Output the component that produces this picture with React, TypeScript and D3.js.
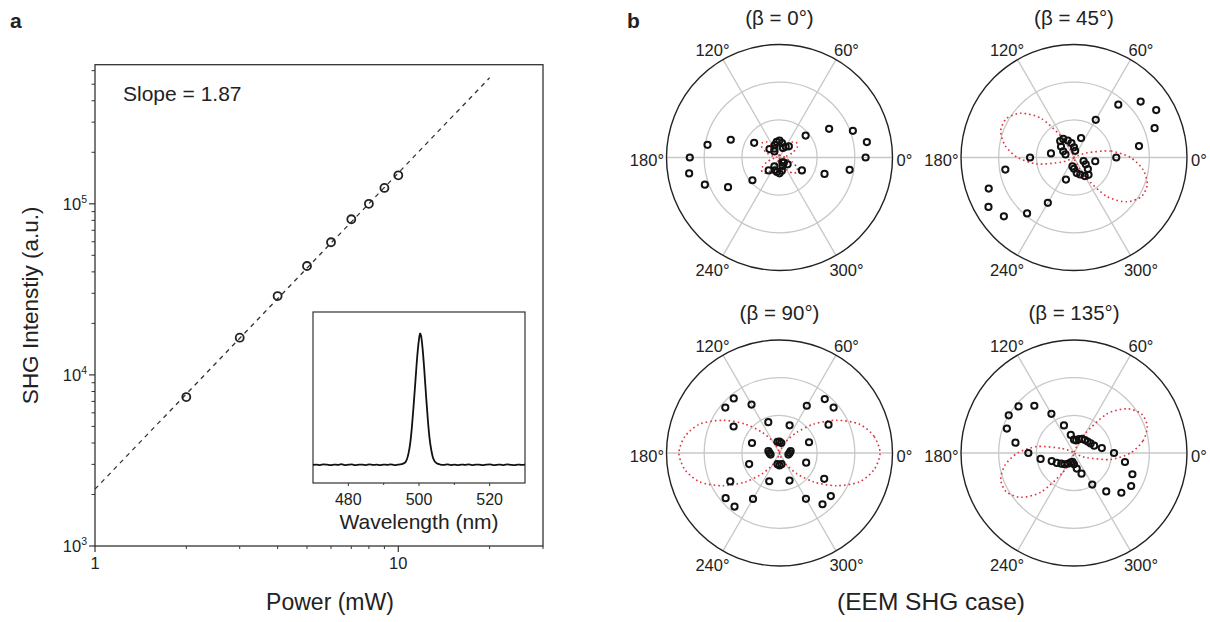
import React from "react";
import * as d3 from "d3";

// ---------- Panel a data ----------
const powerMW = [2, 3, 4, 5, 6, 7, 8, 9, 10];
const shgIntensity = [7420, 16500, 28900, 43300, 59600, 81200, 100000, 123800, 146700];
const fitPower = [1, 20];
const fitIntensity = [2150, 545000];
const slopeText = "Slope = 1.87";

const xMajorTicks = [1, 10];
const xMinorTicks = [2, 3, 4, 5, 6, 7, 8, 9, 20, 30];
const yMajorTicks = [1e3, 1e4, 1e5];
const yMajorExp = ["3", "4", "5"];
const yMinorTicks = [2e3, 3e3, 4e3, 5e3, 6e3, 7e3, 8e3, 9e3, 2e4, 3e4, 4e4, 5e4, 6e4, 7e4, 8e4, 9e4, 2e5, 3e5, 4e5, 5e5, 6e5];

// inset spectrum
const wavelength = [470, 471, 472, 473, 474, 475, 476, 477, 478, 479, 480, 481, 482, 483, 484, 485, 486, 487, 488, 489, 490, 491, 492, 493, 494, 495, 496, 497, 497.5, 498, 498.5, 499, 499.5, 500, 500.3, 500.6, 501, 501.5, 502, 502.5, 503, 503.5, 504, 505, 506, 507, 508, 509, 510, 511, 512, 513, 514, 515, 516, 517, 518, 519, 520, 521, 522, 523, 524, 525, 526, 527, 528, 529, 530];
const spectrum = [0.106, 0.108, 0.105, 0.109, 0.107, 0.104, 0.108, 0.106, 0.110, 0.105, 0.107, 0.109, 0.104, 0.107, 0.108, 0.105, 0.109, 0.106, 0.107, 0.104, 0.108, 0.106, 0.109, 0.105, 0.107, 0.110, 0.118, 0.17, 0.23, 0.33, 0.46, 0.6, 0.74, 0.84, 0.875, 0.86, 0.79, 0.66, 0.51, 0.37, 0.26, 0.19, 0.145, 0.115, 0.108, 0.106, 0.109, 0.105, 0.107, 0.104, 0.108, 0.106, 0.109, 0.105, 0.107, 0.108, 0.104, 0.107, 0.109, 0.105, 0.106, 0.108, 0.105, 0.109, 0.106, 0.104, 0.108, 0.106, 0.107];
const insetMajorTicks = [480, 500, 520];
const insetMinorTicks = [490, 510];

// ---------- Panel b data ----------
const polarAngles = [0, 10, 20, 30, 40, 50, 60, 70, 80, 90, 100, 110, 120, 130, 140, 150, 160, 170, 180, 190, 200, 210, 220, 230, 240, 250, 260, 270, 280, 290, 300, 310, 320, 330, 340, 350];
const betaTitles = ["(\u03b2 = 0\u00b0)", "(\u03b2 = 45\u00b0)", "(\u03b2 = 90\u00b0)", "(\u03b2 = 135\u00b0)"];

const meas0 = [0.762, 0.785, 0.691, 0.507, 0.302, 0.129, 0.11, 0.09, 0.13, 0.15, 0.14, 0.12, 0.09, 0.07, 0.116, 0.259, 0.459, 0.647, 0.794, 0.812, 0.703, 0.526, 0.313, 0.149, 0.09, 0.12, 0.13, 0.14, 0.12, 0.08, 0.05, 0.06, 0.094, 0.229, 0.424, 0.63];
const meas45 = [0.374, 0.584, 0.759, 0.84, 0.77, 0.61, 0.385, 0.183, 0.06, 0.09, 0.13, 0.16, 0.19, 0.19, 0.15, 0.11, 0.08, 0.207, 0.389, 0.617, 0.803, 0.874, 0.81, 0.646, 0.463, 0.208, 0.08, 0.1, 0.14, 0.16, 0.19, 0.2, 0.16, 0.12, 0.09, 0.191];
const meas90 = [0.09, 0.1, 0.278, 0.501, 0.625, 0.623, 0.483, 0.261, 0.09, 0.1, 0.1, 0.29, 0.495, 0.63, 0.626, 0.469, 0.259, 0.1, 0.089, 0.08, 0.286, 0.503, 0.622, 0.619, 0.469, 0.266, 0.1, 0.11, 0.1, 0.26, 0.468, 0.592, 0.593, 0.457, 0.251, 0.08];
const meas135 = [0.354, 0.25, 0.19, 0.17, 0.157, 0.15, 0.144, 0.13, 0.113, 0.118, 0.162, 0.26, 0.4, 0.546, 0.641, 0.667, 0.632, 0.526, 0.404, 0.3, 0.21, 0.176, 0.147, 0.13, 0.11, 0.09, 0.08, 0.1, 0.14, 0.195, 0.323, 0.444, 0.547, 0.584, 0.55, 0.458];

const fit0 = [0.02, 0.06, 0.12, 0.18, 0.2, 0.18, 0.12, 0.05, 0.01, 0, 0.01, 0.05, 0.12, 0.18, 0.2, 0.18, 0.12, 0.06, 0.02, 0.06, 0.12, 0.18, 0.2, 0.18, 0.12, 0.05, 0.01, 0, 0.01, 0.05, 0.12, 0.18, 0.2, 0.18, 0.12, 0.06];
const fit45 = [0.5, 0.33, 0.12, 0.02, 0, 0, 0, 0, 0, 0, 0, 0.04, 0.2, 0.45, 0.61, 0.69, 0.69, 0.62, 0.5, 0.33, 0.12, 0.02, 0, 0, 0, 0, 0, 0, 0, 0.04, 0.2, 0.45, 0.61, 0.69, 0.69, 0.62];
const fit90 = [0.89, 0.85, 0.75, 0.58, 0.4, 0.24, 0.12, 0.04, 0, 0, 0, 0.04, 0.12, 0.24, 0.4, 0.58, 0.75, 0.85, 0.89, 0.85, 0.75, 0.58, 0.4, 0.24, 0.12, 0.04, 0, 0, 0, 0.04, 0.12, 0.24, 0.4, 0.58, 0.75, 0.85];
const fit135 = [0.5, 0.62, 0.69, 0.69, 0.61, 0.45, 0.2, 0.04, 0, 0, 0, 0, 0, 0, 0, 0.02, 0.12, 0.33, 0.5, 0.62, 0.69, 0.69, 0.61, 0.45, 0.2, 0.04, 0, 0, 0, 0, 0, 0, 0, 0.02, 0.12, 0.33];

const measured = [meas0, meas45, meas90, meas135];
const fits = [fit0, fit45, fit90, fit135];
const angleTickLabels = [0, 60, 120, 180, 240, 300];
const ringLevels = [1 / 3, 2 / 3, 1];
const spokeAngles = [0, 60, 120];

const FONT = "'Liberation Sans', Arial, Helvetica, sans-serif";
const INK = "#222";

function PanelA() {
  const x = d3.scaleLog().domain([1, 30]).range([95, 543]);
  const y = d3.scaleLog().domain([1e3, 6.5e5]).range([546, 64.7]);
  const fitLine = d3
    .line<number>()
    .x((d) => x(fitPower[d]))
    .y((d) => y(fitIntensity[d]));

  const xi = d3.scaleLinear().domain([470, 530]).range([313, 525]);
  const yi = d3.scaleLinear().domain([0, 1]).range([483, 312]);
  const spec = d3
    .line<number>()
    .x((i) => xi(wavelength[i]))
    .y((i) => yi(spectrum[i]))
    .curve(d3.curveMonotoneX);

  const [x0, x1] = x.range();
  const [y0, y1] = y.range();
  return (
    <g fontFamily={FONT} fill={INK}>
      <rect x={x0} y={y1} width={x1 - x0} height={y0 - y1} fill="none" stroke="#333" strokeWidth={1.3} />
      {xMajorTicks.map((t) => (
        <g key={"xm" + t}>
          <line x1={x(t)} x2={x(t)} y1={y0} y2={y0 + 6} stroke="#333" strokeWidth={1.2} />
          <text x={x(t)} y={y0 + 23} textAnchor="middle" fontSize={16.5}>
            {String(t)}
          </text>
        </g>
      ))}
      {xMinorTicks.map((t) => (
        <line key={"xn" + t} x1={x(t)} x2={x(t)} y1={y0} y2={y0 + 3} stroke="#333" strokeWidth={1} />
      ))}
      {yMajorTicks.map((t, i) => (
        <g key={"ym" + t}>
          <line x1={x0 - 6} x2={x0} y1={y(t)} y2={y(t)} stroke="#333" strokeWidth={1.2} />
          <text x={x0 - 8} y={y(t) + 6} textAnchor="end" fontSize={16.5}>
            10
            <tspan dy={-7} fontSize={10.5}>
              {yMajorExp[i]}
            </tspan>
          </text>
        </g>
      ))}
      {yMinorTicks.map((t) => (
        <line key={"yn" + t} x1={x0 - 3.5} x2={x0} y1={y(t)} y2={y(t)} stroke="#333" strokeWidth={1} />
      ))}
      <path d={fitLine([0, 1]) || ""} fill="none" stroke="#333" strokeWidth={1.3} strokeDasharray="4.5 4.5" />
      {powerMW.map((p, i) => (
        <circle key={"p" + i} cx={x(p)} cy={y(shgIntensity[i])} r={4} fill="none" stroke="#222" strokeWidth={1.8} />
      ))}
      <text x={123} y={101} fontSize={21}>
        {slopeText}
      </text>
      <text x={330} y={610} textAnchor="middle" fontSize={23}>
        Power (mW)
      </text>
      <text transform={`translate(38,${(y0 + y1) / 2}) rotate(-90)`} textAnchor="middle" fontSize={22.5}>
        SHG Intenstiy (a.u.)
      </text>

      <rect x={313} y={312} width={212} height={171} fill="white" stroke="#333" strokeWidth={1.2} />
      {insetMajorTicks.map((t) => (
        <g key={"im" + t}>
          <line x1={xi(t)} x2={xi(t)} y1={483} y2={486} stroke="#333" strokeWidth={1} />
          <text x={xi(t)} y={505} textAnchor="middle" fontSize={16}>
            {String(t)}
          </text>
        </g>
      ))}
      {insetMinorTicks.map((t) => (
        <line key={"in" + t} x1={xi(t)} x2={xi(t)} y1={483} y2={485} stroke="#333" strokeWidth={1} />
      ))}
      <path d={spec(d3.range(wavelength.length)) || ""} fill="none" stroke="#111" strokeWidth={1.8} />
      <text x={419} y={529} textAnchor="middle" fontSize={21}>
        Wavelength (nm)
      </text>
    </g>
  );
}

function PolarPlot({ cx, cy, idx }: { cx: number; cy: number; idx: number }) {
  const R = 113;
  const r = d3.scaleLinear().domain([0, 1]).range([0, R]);
  const rad = (deg: number) => (deg * Math.PI) / 180;
  const px = (a: number, v: number) => cx + r(v) * Math.cos(rad(a));
  const py = (a: number, v: number) => cy - r(v) * Math.sin(rad(a));
  const vals = measured[idx];
  const fit = fits[idx];
  const fitPath = d3
    .line<number>()
    .x((i) => px(polarAngles[i], fit[i]))
    .y((i) => py(polarAngles[i], fit[i]))
    .curve(d3.curveCardinalClosed.tension(0.2));

  return (
    <g fontFamily={FONT}>
      {ringLevels.slice(0, 2).map((l) => (
        <circle key={l} cx={cx} cy={cy} r={r(l)} fill="none" stroke="#c8c8c8" strokeWidth={1.3} />
      ))}
      {spokeAngles.map((a) => (
        <line
          key={a}
          x1={px(a, 1)}
          y1={py(a, 1)}
          x2={px(a + 180, 1)}
          y2={py(a + 180, 1)}
          stroke="#c8c8c8"
          strokeWidth={1.3}
        />
      ))}
      <circle cx={cx} cy={cy} r={r(1)} fill="none" stroke="#222" strokeWidth={1.4} />
      <path
        d={fitPath(d3.range(polarAngles.length)) || ""}
        fill="none"
        stroke="#e0303a"
        strokeWidth={1.6}
        strokeDasharray="1.6 3"
      />
      {polarAngles.map((a, i) => (
        <circle key={a} cx={px(a, vals[i])} cy={py(a, vals[i])} r={3.1} fill="none" stroke="#111" strokeWidth={2} />
      ))}
      {angleTickLabels.map((a) => {
        let tx = cx + 134 * Math.cos(rad(a));
        const ty = cy + 2.5 - 127 * Math.sin(rad(a)) + 6;
        let anchor: "middle" | "start" | "end" = "middle";
        if (a === 0) {
          tx = cx + R + 4;
          anchor = "start";
        } else if (a === 180) {
          tx = cx - R - 2.5;
          anchor = "end";
        }
        return (
          <text key={a} x={tx} y={ty} textAnchor={anchor} fontSize={16.5} fill={INK}>
            {a + "\u00b0"}
          </text>
        );
      })}
      <text x={cx} y={cy - 133} textAnchor="middle" fontSize={20.5} fill={INK}>
        {betaTitles[idx]}
      </text>
    </g>
  );
}

export default function App() {
  const centersX = [779.5, 1074];
  const centersY = [157.5, 453];
  return (
    <svg
      width={1210}
      height={622}
      viewBox="0 0 1210 622"
      style={{ position: "absolute", left: 0, top: 0, background: "white" }}
    >
      <rect width={1210} height={622} fill="white" />
      <PanelA />
      {[0, 1, 2, 3].map((i) => (
        <PolarPlot key={i} cx={centersX[i % 2]} cy={centersY[Math.floor(i / 2)]} idx={i} />
      ))}
      <text x={10} y={28} fontFamily={FONT} fontWeight="bold" fontSize={21} fill={INK}>
        a
      </text>
      <text x={627} y={28} fontFamily={FONT} fontWeight="bold" fontSize={21} fill={INK}>
        b
      </text>
      <text x={931} y={610} textAnchor="middle" fontFamily={FONT} fontSize={24.5} fill={INK}>
        (EEM SHG case)
      </text>
    </svg>
  );
}
